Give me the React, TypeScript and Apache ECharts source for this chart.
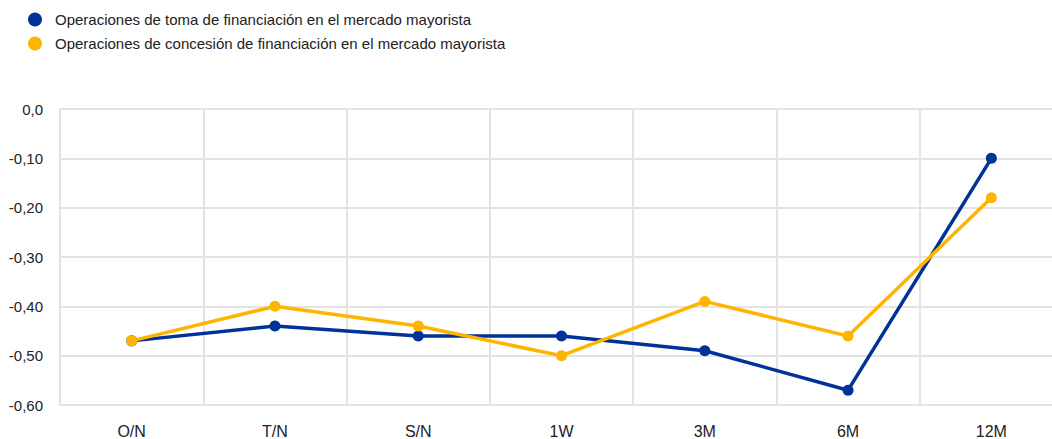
import React, { useEffect, useRef } from "react";
import * as echarts from "echarts";

const categories = ["O/N", "T/N", "S/N", "1W", "3M", "6M", "12M"];
const tomaName = "Operaciones de toma de financiación en el mercado mayorista";
const concesionName = "Operaciones de concesión de financiación en el mercado mayorista";
const tomaValues = [-0.47, -0.44, -0.46, -0.46, -0.49, -0.57, -0.1];
const concesionValues = [-0.47, -0.4, -0.44, -0.5, -0.39, -0.46, -0.18];
const yMin = -0.6;
const yMax = 0;
const yStep = 0.1;

const fmtY = (v: number) => {
  if (Math.abs(v) < 1e-9) return "0,0";
  return v.toFixed(2).replace(".", ",");
};

export default function App() {
  const ref = useRef<HTMLDivElement>(null);
  useEffect(() => {
    if (!ref.current) return;
    const chart = echarts.init(ref.current, undefined, { renderer: "svg" });
    chart.setOption({
      animation: false,
      textStyle: { fontFamily: "Liberation Sans, Arial, sans-serif" },
      legend: {
        orient: "vertical",
        left: 23,
        top: 7,
        itemGap: 9,
        itemWidth: 14,
        itemHeight: 14,
        icon: "circle",
        textStyle: { fontSize: 15, color: "#222", padding: [0, 0, 0, 8] },
        data: [tomaName, concesionName],
      },
      grid: { left: 60, right: 0, top: 109, bottom: 33, containLabel: false },
      xAxis: {
        type: "category",
        data: categories,
        boundaryGap: true,
        axisLine: { show: false },
        axisTick: { show: false },
        axisLabel: { margin: 18, fontSize: 16, color: "#222" },
        splitLine: { show: true, lineStyle: { color: "#e3e3e3", width: 2 } },
      },
      yAxis: {
        type: "value",
        min: yMin,
        max: yMax,
        interval: yStep,
        axisLine: { show: false },
        axisTick: { show: false },
        axisLabel: { margin: 17, fontSize: 15, color: "#222", formatter: fmtY },
        splitLine: { show: true, lineStyle: { color: "#e3e3e3", width: 2 } },
      },
      series: [
        {
          name: tomaName,
          type: "line",
          data: tomaValues,
          color: "#003299",
          symbol: "circle",
          symbolSize: 11,
          lineStyle: { width: 3.5, color: "#003299" },
          itemStyle: { color: "#003299" },
        },
        {
          name: concesionName,
          type: "line",
          data: concesionValues,
          color: "#FFB400",
          symbol: "circle",
          symbolSize: 11,
          lineStyle: { width: 3.5, color: "#FFB400" },
          itemStyle: { color: "#FFB400" },
        },
      ],
    });
    return () => chart.dispose();
  }, []);
  return (
    <div style={{ position: "absolute", left: 0, top: 0, width: 1052, height: 439, overflow: "hidden" }}>
      <div ref={ref} style={{ width: 1063, height: 439 }} />
    </div>
  );
}
